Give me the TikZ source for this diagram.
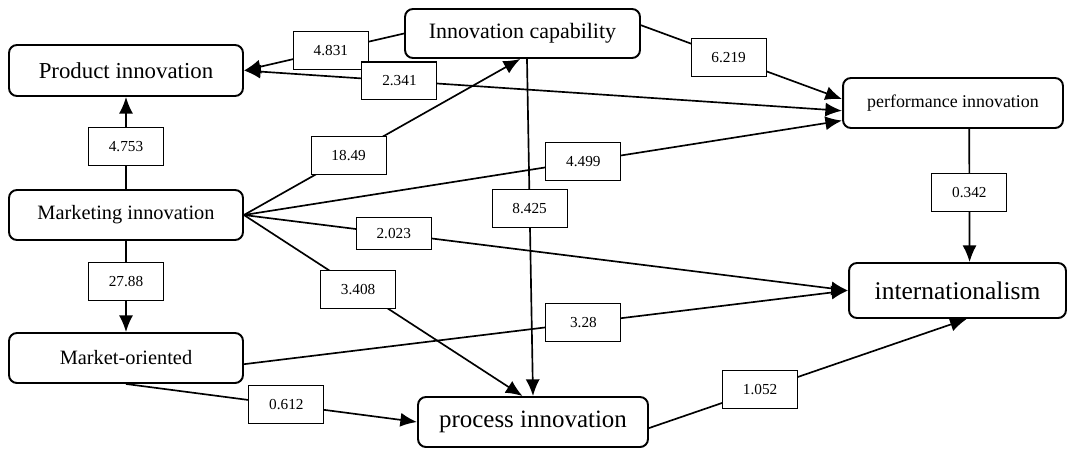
\documentclass[tikz,border=0pt]{standalone}
\usepackage{fontspec}
\setmainfont{Liberation Serif}
\usetikzlibrary{arrows.meta}

\begin{document}
\begin{tikzpicture}[x=0.02cm, y=-0.02cm, line width=0.95pt, >={Latex[length=9.5pt,width=8pt]}]
\tikzstyle{block} = [rectangle, draw, line width=1.1pt, rounded corners=4.5pt,
inner sep=0pt, text centered]
\tikzstyle{weight} = [rectangle, draw, line width=0.6pt, fill=white,
minimum width=1.5cm, minimum height=0.76cm, inner sep=0pt, font=\fontsize{8.7}{10}\selectfont]
\useasboundingbox (0,0) rectangle (1074,450);
% left column
\node [block, minimum width=4.68cm, minimum height=1.02cm, font=\fontsize{13}{15}\selectfont] (product) at (126,70.5) {Product innovation};
\node [block, minimum width=4.68cm, minimum height=1cm, font=\fontsize{11.6}{14}\selectfont] (marketing) at (126,215) {Marketing innovation};
\node [block, minimum width=4.68cm, minimum height=1cm, font=\fontsize{11.6}{14}\selectfont] (market) at (126,358) {Market-oriented};
% middle
\node [block, minimum width=4.7cm, minimum height=0.98cm, font=\fontsize{12.5}{15}\selectfont] (capability) at (522.5,33.5) {Innovation capability};
\node [block, minimum width=4.6cm, minimum height=1cm, font=\fontsize{14.2}{17}\selectfont] (process) at (533,422) {process innovation};
% right column
\node [block, minimum width=4.4cm, minimum height=1cm, font=\fontsize{10.2}{12}\selectfont] (performance) at (953,103) {performance innovation};
\node [block, minimum width=4.34cm, minimum height=1.1cm, font=\fontsize{14.5}{17}\selectfont] (inter) at (957.5,290.5) {internationalism};
% paths
\draw[->] (capability.west) -- node [weight, pos=0.457] {4.831} (product.east);
\draw[<->] (product.east) -- node [weight, pos=0.26] {2.341} (performance.184);
\draw[->] (capability.4) -- node [weight, pos=0.436] {6.219} (performance.178);
\draw[->] (marketing.north) -- node [weight, pos=0.463] {4.753} (product.south);
\draw[->] (marketing.east) -- node [weight, pos=0.379] {18.49} (capability.265);
\draw[->] (marketing.east) -- node [weight, pos=0.5675] {4.499} (performance.189);
\draw[->] (capability.280) -- node [weight, pos=0.444] {8.425} (process.north);
\draw[->] (marketing.east) -- node [weight, pos=0.41] {3.408} (process.112);
\draw[->] (marketing.east) -- node [weight, pos=0.248, minimum height=0.64cm] {2.023} (inter.west);
\draw[->] (performance.302) -- node [weight, pos=0.478] {0.342} (inter.67);
\draw[->] (marketing.south) -- node [weight, pos=0.446] {27.88} (market.north);
\draw[->] (market.357) -- node [weight, pos=0.562] {3.28} (inter.west);
\draw[->] (market.south) -- node [weight, pos=0.551] {0.612} (process.west);
\draw[->] (process.357) -- node [weight, pos=0.35] {1.052} (inter.288);
\end{tikzpicture}
\end{document}
